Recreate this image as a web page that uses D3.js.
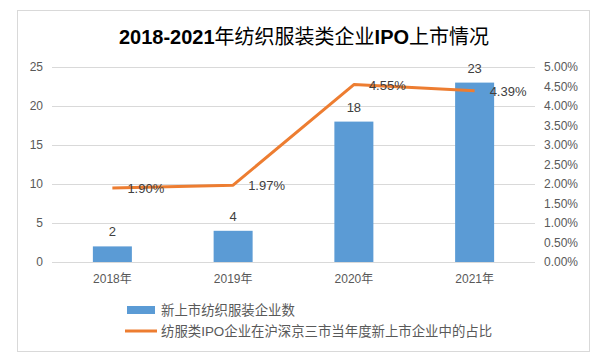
<!DOCTYPE html>
<html>
<head>
<meta charset="utf-8">
<script src="https://cdn.jsdelivr.net/npm/d3@7"></script>
<style>
body { margin: 0; background: #fff; }
text { font-family: "Liberation Sans", "Noto Sans CJK SC", sans-serif; }
</style>
</head>
<body>
<svg id="chart" width="600" height="360"></svg>
<script>
var years = ["2018年", "2019年", "2020年", "2021年"];
var counts = [2, 4, 18, 23];
var shares = [1.90, 1.97, 4.55, 4.39];
var leftTicks = [0, 5, 10, 15, 20, 25];
var rightTicks = [0, 0.5, 1, 1.5, 2, 2.5, 3, 3.5, 4, 4.5, 5];
var seriesNames = ["新上市纺织服装企业数", "纺服类IPO企业在沪深京三市当年度新上市企业中的占比"];

var svg = d3.select("#chart");
var blue = "#5b9bd5", orange = "#ed7d31", grey = "#595959";

// outer frame
svg.append("rect")
    .attr("x", 17.5).attr("y", 10.5)
    .attr("width", 572).attr("height", 341)
    .attr("fill", "#fff").attr("stroke", "#d9d9d9");

// title: latin bold, cjk normal
var title = svg.append("text")
    .attr("x", 304).attr("y", 44)
    .attr("text-anchor", "middle")
    .attr("font-size", 20)
    .attr("fill", "#000");
[["2018-2021", true], ["年纺织服装类企业", false], ["IPO", true], ["上市情况", false]].forEach(function(p) {
    title.append("tspan").attr("font-weight", p[1] ? "bold" : "normal").text(p[0]);
});

var x = d3.scaleBand().domain(years).range([52, 535]);
var y = d3.scaleLinear().domain([0, 25]).range([262, 67]);
var y2 = d3.scaleLinear().domain([0, 5]).range([262, 67]);

// gridlines
svg.append("g").selectAll("line")
    .data(leftTicks).enter().append("line")
    .attr("x1", 52).attr("x2", 535)
    .attr("y1", function(d) { return Math.round(y(d)) + 0.5; })
    .attr("y2", function(d) { return Math.round(y(d)) + 0.5; })
    .attr("stroke", "#d9d9d9");

var leftAxis = svg.append("g")
    .attr("transform", "translate(52,0)")
    .call(d3.axisLeft(y).tickValues(leftTicks).tickSize(0).tickPadding(9));
leftAxis.select(".domain").remove();
leftAxis.selectAll("text").attr("font-size", 12).attr("fill", grey)
    .attr("font-family", "Liberation Sans, sans-serif");

var rightAxis = svg.append("g")
    .attr("transform", "translate(535,0)")
    .call(d3.axisRight(y2).tickValues(rightTicks).tickSize(0).tickPadding(9)
        .tickFormat(function(d) { return d.toFixed(2) + "%"; }));
rightAxis.select(".domain").remove();
rightAxis.selectAll("text").attr("font-size", 12).attr("fill", grey)
    .attr("font-family", "Liberation Sans, sans-serif");

var bottomAxis = svg.append("g")
    .attr("transform", "translate(0,262)")
    .call(d3.axisBottom(x).tickSize(0).tickPadding(12));
bottomAxis.select(".domain").remove();
bottomAxis.selectAll("text").attr("font-size", 12).attr("fill", grey);

// bars
var bw = 39;
svg.append("g").selectAll("rect")
    .data(counts).enter().append("rect")
    .attr("x", function(d, i) { return x(years[i]) + x.bandwidth() / 2 - bw / 2; })
    .attr("y", function(d) { return y(d); })
    .attr("width", bw)
    .attr("height", function(d) { return y(0) - y(d); })
    .attr("fill", blue);

svg.append("g").selectAll("text")
    .data(counts).enter().append("text")
    .attr("x", function(d, i) { return x(years[i]) + x.bandwidth() / 2; })
    .attr("y", function(d) { return y(d) - 10; })
    .attr("text-anchor", "middle")
    .attr("font-size", 13)
    .attr("fill", "#404040")
    .text(function(d) { return d; });

// line
var line = d3.line()
    .x(function(d, i) { return x(years[i]) + x.bandwidth() / 2; })
    .y(function(d) { return y2(d); });

svg.append("path")
    .datum(shares)
    .attr("d", line)
    .attr("fill", "none")
    .attr("stroke", orange)
    .attr("stroke-width", 3)
    .attr("stroke-linejoin", "round");

svg.append("g").selectAll("text")
    .data(shares).enter().append("text")
    .attr("x", function(d, i) { return x(years[i]) + x.bandwidth() / 2 + 15; })
    .attr("y", function(d) { return y2(d) + 5; })
    .attr("font-size", 13)
    .attr("fill", "#404040")
    .text(function(d) { return d.toFixed(2) + "%"; });

// legend
var legend = svg.append("g");
legend.append("rect")
    .attr("x", 127).attr("y", 306).attr("width", 28).attr("height", 8)
    .attr("fill", blue);
legend.append("line")
    .attr("x1", 125).attr("x2", 157).attr("y1", 331).attr("y2", 331)
    .attr("stroke", orange).attr("stroke-width", 3);
legend.selectAll("text")
    .data(seriesNames).enter().append("text")
    .attr("x", 161)
    .attr("y", function(d, i) { return 315 + i * 21; })
    .attr("font-size", 13.4)
    .attr("fill", grey)
    .text(function(d) { return d; });
</script>
</body>
</html>
